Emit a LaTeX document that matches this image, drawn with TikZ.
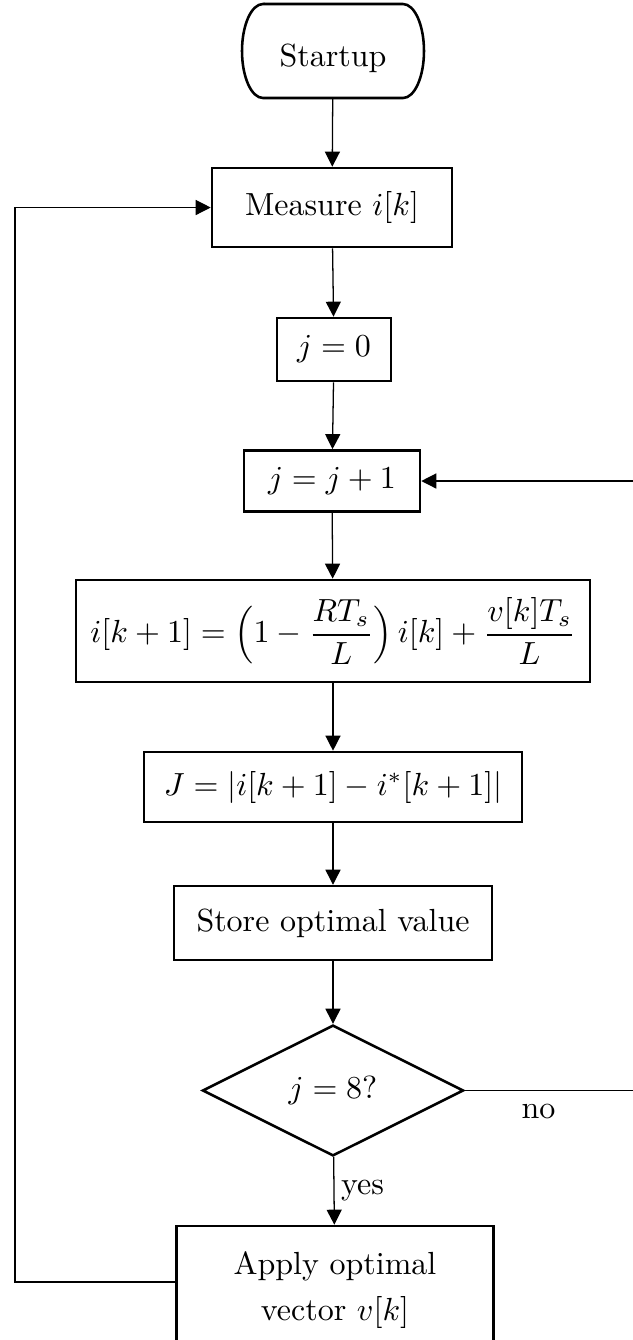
\documentclass[tikz,border=0pt]{standalone}
\usepackage{amsmath}
\usetikzlibrary{shapes.geometric,arrows.meta}
\begin{document}
\begin{tikzpicture}[x=0.3125pt,y=-0.3125pt,
  box/.style={draw,thick,rectangle,inner sep=0pt,align=center},
  term/.style={rectangle,inner sep=0pt},
  decision/.style={draw,thick,diamond,inner sep=0pt},
  conn/.style={-{Triangle[length=4.7pt,width=4.7pt]}}]
\useasboundingbox (0,0) rectangle (633,1340);
\node[term,minimum width=56.6pt,minimum height=25pt] (start) at (333,58) {Startup};
\draw[thick] (263,4) -- (403,4) arc[start angle=90,end angle=-90,x radius=6.56pt,y radius=14.69pt]
  -- (263,98) arc[start angle=270,end angle=90,x radius=6.56pt,y radius=14.69pt] -- cycle;
\node[box,minimum width=75pt,minimum height=24.7pt] (meas) at (332,207.5) {Measure $i[k]$};
\node[box,minimum width=35.6pt,minimum height=19.7pt] (j0) at (334,349.5) {$j=0$};
\node[box,minimum width=55pt,minimum height=19.1pt] (jj) at (332,481) {$j=j+1$};
\node[box,minimum width=160.6pt,minimum height=31.9pt] (pred) at (333,631) {$\displaystyle i[k+1]=\Bigl(1-\frac{RT_s}{L}\Bigr)\,i[k]+\frac{v[k]T_s}{L}$};
\node[box,minimum width=118.1pt,minimum height=21.9pt] (cost) at (333,787) {$J=|i[k+1]-i^{*}[k+1]|$};
\node[box,minimum width=99.4pt,minimum height=23.1pt] (store) at (333,923) {Store optimal value};
\node[decision,minimum width=81.6pt,minimum height=40.9pt] (dec) at (333,1090.5) {$j=8?$};
\node[box,minimum width=99.1pt,minimum height=40pt] (apply) at (335,1290) {Apply optimal\\[2.4pt] vector $v[k]$};
\coordinate (rc) at (640,1090.5);
\coordinate (lc) at (15,1282);
\draw[conn] (start) -- (meas);
\draw[conn] (meas) -- (j0);
\draw[conn] (j0) -- (jj);
\draw[conn] (jj) -- (pred);
\draw[conn] (pred) -- (cost);
\draw[conn] (cost) -- (store);
\draw[conn] (store) -- (dec);
\draw[conn] (dec) -- node[right,inner sep=2pt] {yes} (apply);
\draw[conn] (dec.east) -- node[below,pos=0.42,inner sep=4pt] {no} (rc) |- (jj.east);
\draw[conn] ([yshift=2.5pt]apply.west) -- (lc) |- (meas.west);
\end{tikzpicture}
\end{document}
